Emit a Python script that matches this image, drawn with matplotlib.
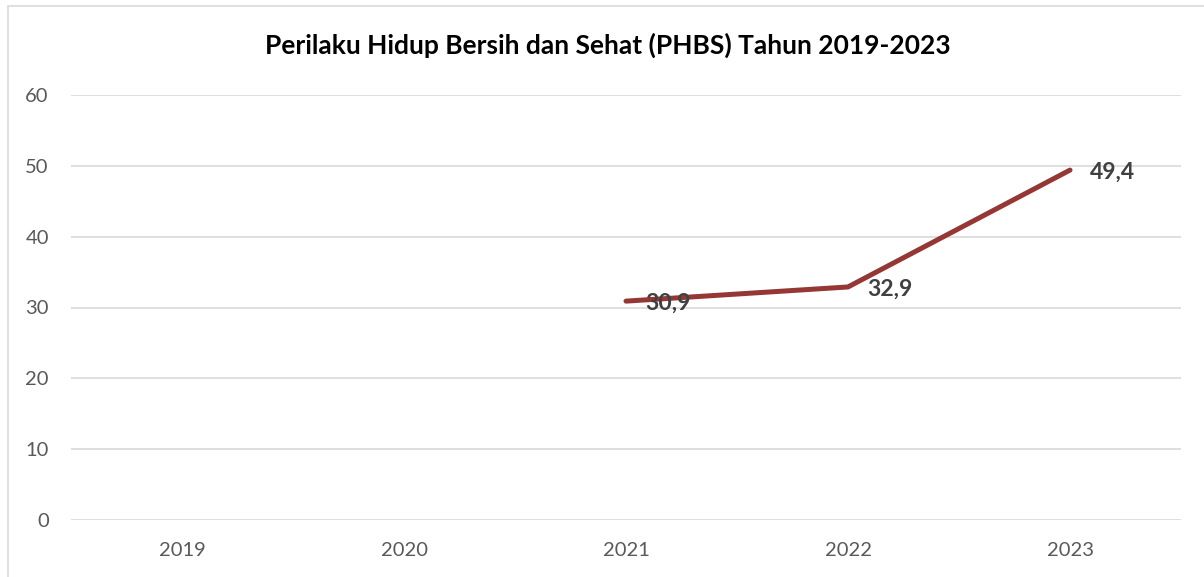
import matplotlib
matplotlib.use("Agg")
import matplotlib.pyplot as plt
from matplotlib.patches import Rectangle

years = ["2019", "2020", "2021", "2022", "2023"]
values = [None, None, 30.9, 32.9, 49.4]
labels = ["30,9", "32,9", "49,4"]
yticks = [0, 10, 20, 30, 40, 50, 60]
title = "Perilaku Hidup Bersih dan Sehat (PHBS) Tahun 2019-2023"

W, H = 1204, 577
fig = plt.figure(figsize=(W / 100, H / 100), dpi=100)
plt.rcParams['font.family'] = ['Lato', 'DejaVu Sans']

# figure border (extends off right and bottom)
fig.patches.append(Rectangle((7.5 / W, -0.1), 1.2, 1 - 5.5 / H + 0.1,
                             transform=fig.transFigure, fill=False,
                             edgecolor="#d9d9d9", linewidth=1.2))

ax = fig.add_axes([71 / W, (H - 520) / H, (1181 - 71) / W, (520 - 95) / H])
ax.set_xlim(-0.5, 4.5)
ax.set_ylim(0, 60)
ax.set_yticks(yticks)
ax.set_yticklabels([str(t) for t in yticks])
ax.set_xticks(range(len(years)))
ax.set_xticklabels(years)
ax.grid(axis="y", color="#d9d9d9", linewidth=1.2)
ax.set_axisbelow(True)
for s in ax.spines.values():
    s.set_visible(False)
ax.tick_params(axis="both", length=0, labelsize=14.5, colors="#595959")
ax.tick_params(axis="y", pad=16)
ax.tick_params(axis="x", pad=16)

xs = [i for i, v in enumerate(values) if v is not None]
ys = [v for v in values if v is not None]
ax.plot(xs, ys, color="#953735", linewidth=3.6, solid_capstyle="round",
        solid_joinstyle="round", zorder=3)
for x, y, lab in zip(xs, ys, labels):
    ax.annotate(lab, (x, y), xytext=(14, -1.5), textcoords="offset points",
                ha="left", va="center", fontsize=16.5, fontweight="bold",
                color="#404040", zorder=4)

fig.text(608 / W, 1 - 45 / H, title, ha="center", va="center",
         fontsize=19, fontweight="bold", color="black")

fig.savefig("out.png", dpi=100)
